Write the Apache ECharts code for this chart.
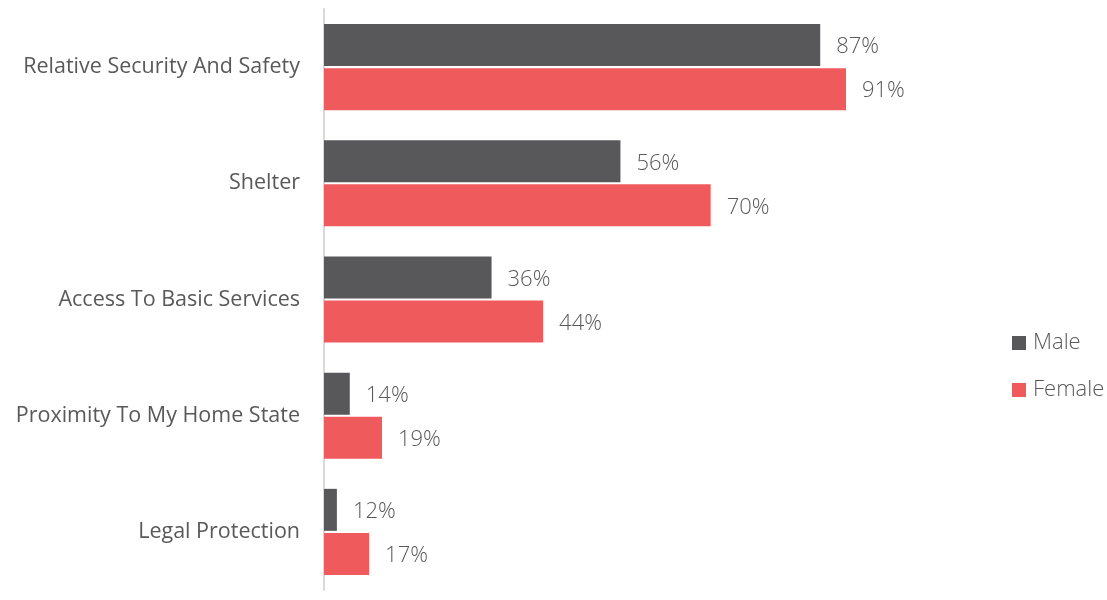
<!DOCTYPE html>
<html>
<head>
<meta charset="utf-8">
<script src="https://cdn.jsdelivr.net/npm/echarts@6/dist/echarts.min.js"></script>
<style>
  html, body { margin: 0; padding: 0; background: #fff; }
  #chart { width: 1107px; height: 600px; }
</style>
</head>
<body>
<div id="chart"></div>
<script>
// Reasons for choosing a location, by gender (percent of respondents)
const categories = [
  'Relative Security And Safety',
  'Shelter',
  'Access To Basic Services',
  'Proximity To My Home State',
  'Legal Protection'
];
const maleValues = [87, 56, 36, 14, 12];
const femaleValues = [91, 70, 44, 19, 17];
const seriesNames = ['Male', 'Female'];

const FONT = '"Open Sans", "Noto Sans", sans-serif';
const TEXT = '#595959';

const valueLabel = {
  show: true,
  position: 'right',
  distance: 16,
  offset: [0, 2],
  formatter: p => p.value + '%',
  fontFamily: FONT,
  fontSize: 22,
  fontWeight: 300,
  color: TEXT
};

const chart = echarts.init(document.getElementById('chart'), null, { renderer: 'canvas' });
chart.setOption({
  animation: false,
  backgroundColor: '#ffffff',
  grid: { left: 324, top: 9, width: 580, bottom: 10, containLabel: false },
  legend: {
    orient: 'vertical',
    left: 1007,
    top: 327,
    itemWidth: 14,
    itemHeight: 14,
    itemGap: 25,
    icon: 'rect',
    textStyle: { fontFamily: FONT, fontSize: 22, fontWeight: 300, color: TEXT, padding: [0, 0, 0, 2] },
    data: seriesNames
  },
  xAxis: {
    type: 'value',
    min: 10,
    max: 100,
    show: false
  },
  yAxis: {
    type: 'category',
    inverse: true,
    data: categories,
    axisLine: { show: true, lineStyle: { color: '#d9d9d9', width: 2 } },
    axisTick: { show: false },
    axisLabel: { margin: 24, fontFamily: FONT, fontSize: 21.5, color: TEXT, padding: [3, 0, 0, 0] },
    splitLine: { show: false }
  },
  series: [
    {
      name: seriesNames[0],
      type: 'bar',
      data: maleValues,
      barWidth: 42,
      barGap: '5%',
      itemStyle: { color: '#58585A' },
      label: valueLabel
    },
    {
      name: seriesNames[1],
      type: 'bar',
      data: femaleValues,
      barWidth: 42,
      barGap: '5%',
      itemStyle: { color: '#EF5A5D' },
      label: valueLabel
    }
  ]
});
</script>
</body>
</html>
